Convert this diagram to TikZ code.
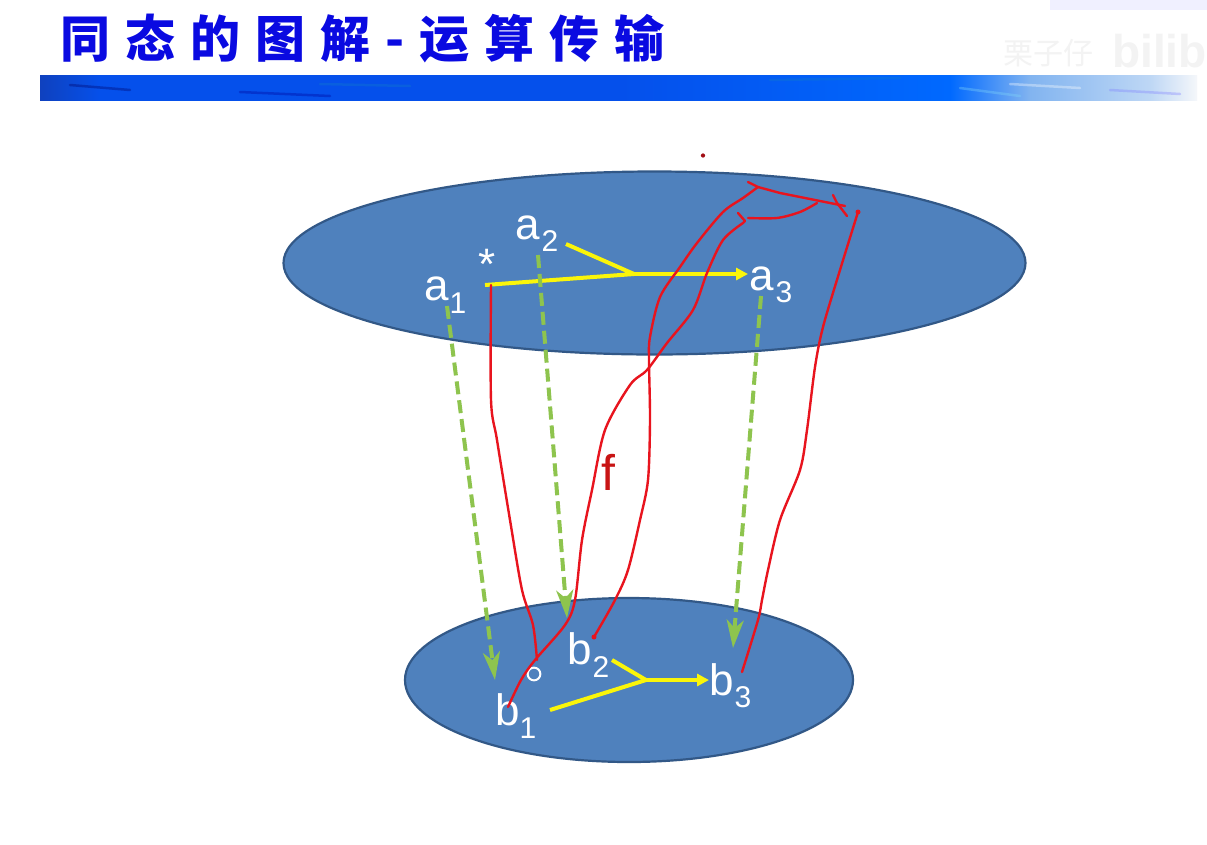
\documentclass[tikz,border=0pt]{standalone}
\usepackage{fontspec}
\usepackage{xcolor}
\setmainfont{Liberation Sans}
\newfontfamily\cjk[LetterSpace=30]{Noto Sans CJK SC}
\newfontfamily\cjkmark{Noto Sans CJK SC}
\usetikzlibrary{arrows.meta, positioning, calc, shapes.geometric}
\definecolor{discblue}{RGB}{79,129,189}
\definecolor{discedge}{RGB}{50,88,135}
\definecolor{titleblue}{RGB}{10,10,225}
\definecolor{mapgreen}{RGB}{142,196,78}
\definecolor{opyellow}{RGB}{250,245,10}
\definecolor{penred}{RGB}{232,20,30}
\definecolor{fred}{RGB}{200,20,20}
\definecolor{markgray}{RGB}{243,243,243}
\definecolor{bandA}{RGB}{15,65,190}
\definecolor{bandB}{RGB}{5,80,235}
\definecolor{bandC}{RGB}{0,105,255}
\definecolor{bandD}{RGB}{130,180,240}
\definecolor{bandE}{RGB}{190,215,245}
\definecolor{bandF}{RGB}{245,247,250}
\tikzset{
  disc/.style={ellipse, inner sep=0pt, draw=discedge, fill=discblue, line width=2.2pt},
  elem/.style={text=white, inner sep=0pt, font=\fontsize{44}{44}\selectfont},
  sub/.style={text=white, inner sep=0pt, font=\fontsize{30}{30}\selectfont},
  streak/.style={line width=2.5pt, line cap=round, opacity=0.35},
  oparrow/.style={draw=opyellow, line width=4pt},
  maparrow/.style={draw=mapgreen, line width=4pt, dash pattern=on 13pt off 6pt, -{Stealth[length=28pt, width=17pt, inset=8pt]}},
  penline/.style={draw=penred, line width=2.4pt, line join=round, line cap=round},
}
\begin{document}
\begin{tikzpicture}[x=1pt, y=-1pt]
\useasboundingbox (0,0) rectangle (1207,844);
\fill[white] (0,0) rectangle (1207,844);
\node (corner) [fill=blue!6, minimum width=157pt, minimum height=10pt, inner sep=0pt, anchor=north west] at (1050,0) {};
\node (title) [anchor=west, inner sep=0pt, text=titleblue, font=\cjk\bfseries\fontsize{50}{50}\selectfont] at (60,39) {同态的图解-运算传输};
\node (wmtext) [anchor=west, inner sep=0pt, text=markgray, font=\cjkmark\fontsize{30}{30}\selectfont] at (1003,53) {栗子仔};
\node (wmlogo) [anchor=west, inner sep=0pt, text=markgray, font=\bfseries\fontsize{46}{46}\selectfont] at (1112,51) {bilib};
% banner
\foreach \xa/\xb/\ca/\cb in {40/100/bandA/bandB, 100/620/bandB/bandB, 620/950/bandB/bandC, 950/1030/bandC/bandD, 1030/1150/bandD/bandE, 1150/1197/bandE/bandF}
  \shade[left color=\ca, right color=\cb] (\xa,75.5) rectangle (\xb,100.5);
\draw[streak, black!60!blue] (70,85) -- (130,90);
\draw[streak, black!40!blue] (240,92) -- (330,96);
\draw[streak, cyan!60!blue] (320,84) -- (410,86);
\draw[streak, cyan!60!blue] (770,80) -- (900,78);
\draw[streak, cyan!50!white] (960,88) -- (1020,96);
\draw[streak, white] (1010,84) -- (1080,88);
\draw[streak, blue!50!white] (1110,90) -- (1180,94);
\node (topdisc) [disc, minimum width=742pt, minimum height=183pt] at (654.5,263) {};
\node (botdisc) [disc, minimum width=448pt, minimum height=164pt] at (629,680) {};
\node (dot) [circle, fill=penred!70!black, inner sep=1.5pt] at (703,155.5) {};
% upper elements
\node (a1) [elem] at (437,289) {a};
\node (a1s) [sub] at (458,303) {1};
\node (a2) [elem] at (528,228) {a};
\node (a2s) [sub] at (550,241) {2};
\node (a3) [elem] at (762,279) {a};
\node (a3s) [sub] at (784,292) {3};
\node (star) [elem] at (487,264) {*};
% lower elements
\node (b1) [elem] at (508,710) {b};
\node (b1s) [sub] at (528,728) {1};
\node (b2) [elem] at (580,649) {b};
\node (b2s) [sub] at (601,667) {2};
\node (b3) [elem] at (722,680) {b};
\node (b3s) [sub] at (743,697) {3};
\node (circ) [circle, draw=white, line width=2pt, inner sep=4.5pt] at (534,674) {};
\node (flabel) [text=fred, inner sep=0pt, font=\fontsize{50}{50}\selectfont] at (608,472) {f};
% yellow operations
\coordinate (opa1) at (485,285);
\coordinate (opa2) at (566,244);
\coordinate (opa) at (634,274);
\coordinate (opb1) at (550,710);
\coordinate (opb2) at (612,660);
\coordinate (opb) at (646,680);
\draw[oparrow] (opa1) -- (opa) (opa2) -- (opa);
\draw[oparrow, -{Stealth[length=12pt, width=12pt, inset=0pt]}] (opa) -- (748,274);
\draw[oparrow] (opb1) -- (opb) (opb2) -- (opb);
\draw[oparrow, -{Stealth[length=12pt, width=12pt, inset=0pt]}] (opb) -- (709,680);
% green maps
\coordinate (ma1) at (447,306);
\coordinate (ma2) at (538,255);
\coordinate (ma3) at (761,296);
\coordinate (mb1) at (495,680);
\coordinate (mb2) at (567,618);
\coordinate (mb3) at (733,648);
\draw[maparrow] (ma1) -- (mb1);
\draw[maparrow] (ma2) -- (mb2);
\draw[maparrow] (ma3) -- (mb3);
% red pen strokes
\draw[penline] plot[smooth, tension=0.5] coordinates {(491,285) (491,400) (497,440) (510,520) (522,590) (533,625) (537,660)};
\draw[penline] plot[smooth, tension=0.5] coordinates {(508,707) (521,680) (535,660) (565,625) (575,600) (582,540) (592,490) (605,430) (630,385) (647,370) (667,343) (693,310) (707,273) (723,240) (743,223)};
\draw[penline] (738,213) -- (745,221) -- (743,223);
\draw[penline] plot[smooth, tension=0.5] coordinates {(594,637) (615,600) (628,570) (640,520) (648,480) (650,420) (649,360) (650,337) (660,297) (680,267) (697,243) (723,212) (743,198) (758,187)};
\draw[penline] (748,182) -- (758,187) -- (780,193) -- (845,206);
\draw[penline] (833,195) -- (837,203) -- (847,216);
\draw[penline] plot[smooth, tension=0.5] coordinates {(748,218) (777,218) (800,212) (817,203)};
\draw[penline] plot[smooth, tension=0.5] coordinates {(858,212) (840,270) (823,327) (815,367) (807,430) (800,470) (780,520) (768,570) (762,600) (758,620) (742,672)};
\fill[penred] (858,212) circle (2.5pt) (594,637) circle (2.5pt);
\end{tikzpicture}
\end{document}
